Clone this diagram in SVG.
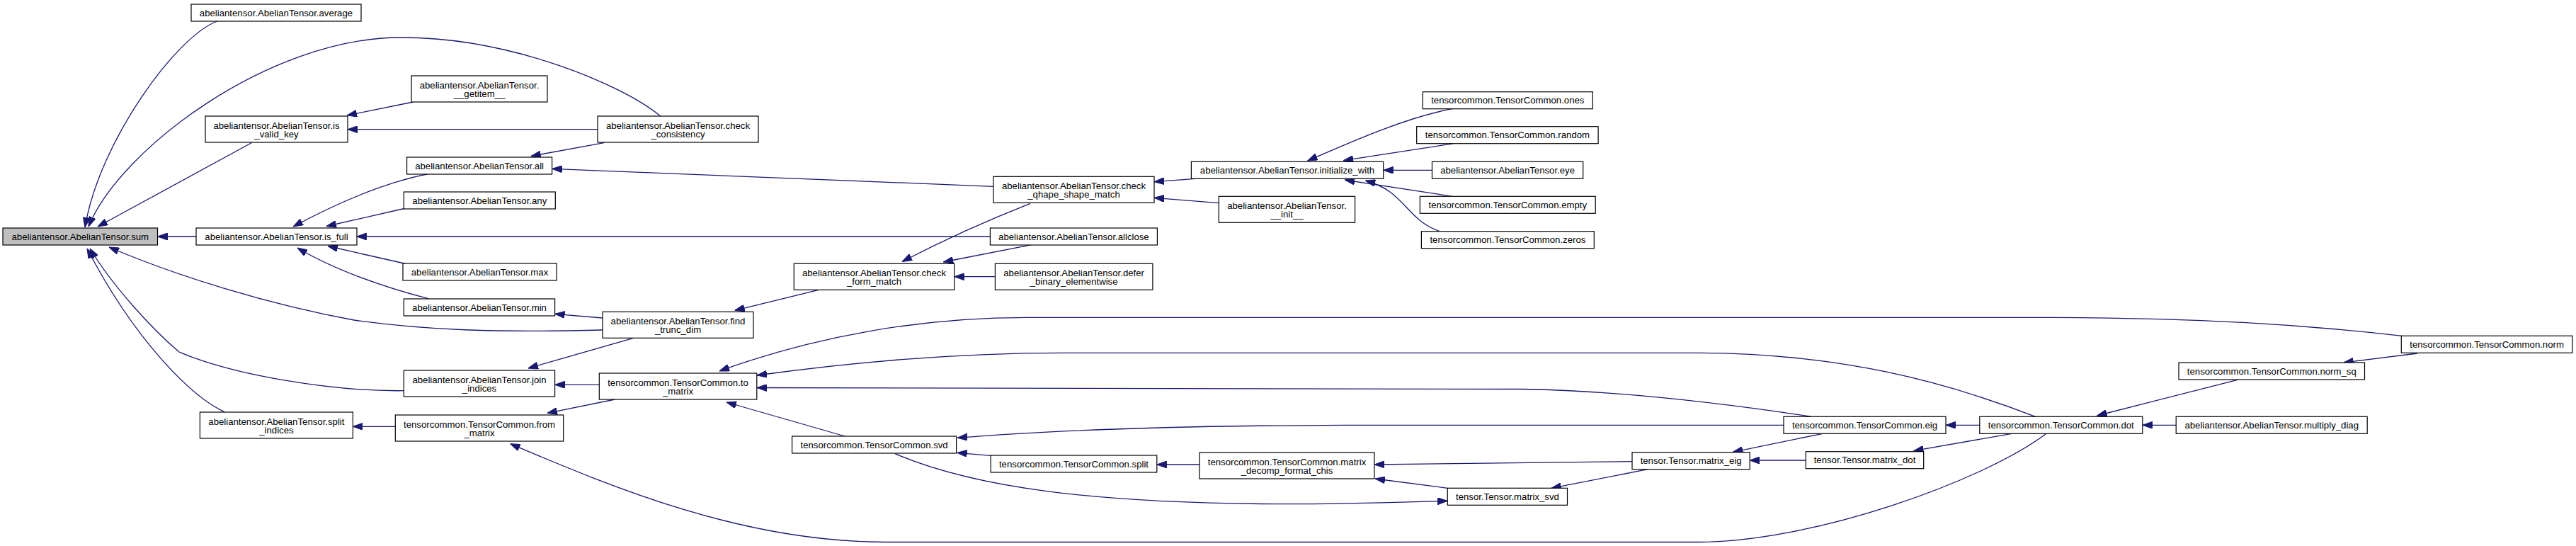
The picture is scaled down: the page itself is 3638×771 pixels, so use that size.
<svg xmlns="http://www.w3.org/2000/svg" width="3638" height="771" viewBox="0 0 3638 771">
<style>
.n rect{fill:#fff;stroke:#000;stroke-width:1.2}
.n.root rect{fill:#bfbfbf}
text{font-family:"Liberation Sans",Arial,Helvetica,sans-serif;font-size:13.2px;fill:#000;text-anchor:middle}
.e path{fill:none;stroke:#191970;stroke-width:1.3;marker-end:url(#ah)}
</style>
<defs>
<marker id="ah" markerUnits="userSpaceOnUse" markerWidth="14" markerHeight="10" refX="14" refY="5" orient="auto">
<path d="M0,0 L14,5 L0,10 z" fill="#191970" stroke="#191970" stroke-width="1"/>
</marker>
</defs>
<rect width="3638" height="771" fill="#fff"/>
<g id="connectors" class="e">
<path d="M307,30 C250,50 140,200 120,321"/>
<path d="M932.6,164 C880,120 720,52 564,53 C380,54 170,210 125,320"/>
<path d="M356,201.3 L138,320"/>
<path d="M277,334 L222.5,334"/>
<path d="M851,466 C700,470 600,466 500,452 C380,430 250,390 154,349"/>
<path d="M570.3,551.7 C470,553 330,530 253,497 C215,465 160,405 127,351"/>
<path d="M317,581.7 C270,560 190,480 123,351"/>
<path d="M605,245.7 C540,258 470,290 414,320"/>
<path d="M573,294 L461,319.5"/>
<path d="M1398.4,334 L503.8,334"/>
<path d="M573,372.5 L463,347.5"/>
<path d="M605,421.7 C540,405 470,380 420,350"/>
<path d="M583.5,144 L490,163"/>
<path d="M844,182.7 L491,182.7"/>
<path d="M853,201.7 L749.8,220.5"/>
<path d="M1403,263.3 L779.7,238.3"/>
<path d="M851,449 L783.6,443.3"/>
<path d="M893.7,477.7 L745.9,520"/>
<path d="M846.3,543.3 L783.6,543.3"/>
<path d="M558.3,602.3 L498.3,602.3"/>
<path d="M868.4,564 L773,583.3"/>
<path d="M2890,612.3 C2800,680 2560,765 2400,765.5 L1250,765.5 C1050,765 870,690 720.6,626.7"/>
<path d="M1156.3,409.3 L1037.7,438.3"/>
<path d="M1455,287.3 C1410,305 1340,335 1274,369.5"/>
<path d="M1456.8,345.7 L1332.3,370"/>
<path d="M1405.4,390.7 L1347.8,390.7"/>
<path d="M1688,252.3 L1630,256.7"/>
<path d="M1721.3,286.7 L1630,279.3"/>
<path d="M2051,153.7 C1990,165 1920,195 1846.7,227"/>
<path d="M2052.9,202.7 L1897.3,226.7"/>
<path d="M2022.5,240.3 L1953.7,240.3"/>
<path d="M2051,277.3 L1899.2,254"/>
<path d="M2033,326.7 C1985,310 1985,270 1928.4,255"/>
<path d="M3392.4,474.3 C3250,458 3100,449 2900,448.3 L1450,448.3 C1300,448.3 1150,475 1016,524"/>
<path d="M2874.5,588.3 C2750,540 2600,499 2400,498.3 L1500,498.3 C1350,498.3 1200,512 1069,530"/>
<path d="M2558,588.3 C2450,572 2300,552 2150,549.5 L1069,547.5"/>
<path d="M1193.3,616 L1026,568"/>
<path d="M2519,600.3 L1900,600.3 C1700,601 1500,606 1352,618.3"/>
<path d="M1399,643.3 L1351.7,639.3"/>
<path d="M1264,640.7 C1380,690 1550,710 1800,711.7 C1900,712 1980,709 2044.3,707.3"/>
<path d="M1694,656 L1633.8,656"/>
<path d="M2305,651.7 L1941.2,656"/>
<path d="M2044.3,689.3 L1942,676"/>
<path d="M2327,662.7 L2191,689.3"/>
<path d="M2574,612.3 L2447.4,638.3"/>
<path d="M2550.3,650 L2471,650"/>
<path d="M2795.8,600.3 L2748,600.3"/>
<path d="M2841,612.3 L2702.5,636.7"/>
<path d="M3159.9,536.3 L2961.5,587"/>
<path d="M3073.2,600.3 L3025.9,600.3"/>
<path d="M3414,499 L3309.7,512"/>
</g>
<g id="n_sum" class="n root"><rect x="4" y="322" width="218.5" height="24"/><text x="113.3" y="338.5">abeliantensor.AbelianTensor.sum</text></g>
<g id="n_average" class="n"><rect x="270" y="6" width="240" height="24"/><text x="390" y="22.5">abeliantensor.AbelianTensor.average</text></g>
<g id="n_is_valid_key" class="n"><rect x="290" y="164" width="201" height="37"/><text x="390.5" y="181.5">abeliantensor.AbelianTensor.is</text><text x="390.5" y="194">_valid_key</text></g>
<g id="n_is_full" class="n"><rect x="277" y="322" width="227" height="24"/><text x="390.5" y="338.5">abeliantensor.AbelianTensor.is_full</text></g>
<g id="n_split_indices" class="n"><rect x="282.4" y="582" width="216" height="37"/><text x="390.4" y="599.5">abeliantensor.AbelianTensor.split</text><text x="390.4" y="612">_indices</text></g>
<g id="n_getitem" class="n"><rect x="581" y="107" width="192" height="37"/><text x="677" y="124.5">abeliantensor.AbelianTensor.</text><text x="677" y="137">__getitem__</text></g>
<g id="n_all" class="n"><rect x="574.6" y="222" width="205" height="24"/><text x="677.1" y="238.5">abeliantensor.AbelianTensor.all</text></g>
<g id="n_any" class="n"><rect x="570.3" y="271" width="214" height="24"/><text x="677.3" y="287.5">abeliantensor.AbelianTensor.any</text></g>
<g id="n_max" class="n"><rect x="569" y="372" width="217" height="24"/><text x="677.5" y="388.5">abeliantensor.AbelianTensor.max</text></g>
<g id="n_min" class="n"><rect x="570.3" y="422" width="213.3" height="24"/><text x="677" y="438.5">abeliantensor.AbelianTensor.min</text></g>
<g id="n_join_indices" class="n"><rect x="570.3" y="523" width="213.3" height="37"/><text x="677" y="540.5">abeliantensor.AbelianTensor.join</text><text x="677" y="553">_indices</text></g>
<g id="n_from_matrix" class="n"><rect x="558.3" y="586" width="237.4" height="37"/><text x="677" y="603.5">tensorcommon.TensorCommon.from</text><text x="677" y="616">_matrix</text></g>
<g id="n_check_consistency" class="n"><rect x="844" y="164" width="227" height="37"/><text x="957.5" y="181.5">abeliantensor.AbelianTensor.check</text><text x="957.5" y="194">_consistency</text></g>
<g id="n_find_trunc_dim" class="n"><rect x="851" y="440.3" width="213" height="37"/><text x="957.5" y="457.8">abeliantensor.AbelianTensor.find</text><text x="957.5" y="470.3">_trunc_dim</text></g>
<g id="n_to_matrix" class="n"><rect x="846.3" y="527" width="222.5" height="37"/><text x="957.5" y="544.5">tensorcommon.TensorCommon.to</text><text x="957.5" y="557">_matrix</text></g>
<g id="n_check_form_match" class="n"><rect x="1121.3" y="372.3" width="226.5" height="37"/><text x="1234.5" y="389.8">abeliantensor.AbelianTensor.check</text><text x="1234.5" y="402.3">_form_match</text></g>
<g id="n_svd" class="n"><rect x="1118.6" y="616" width="232" height="24"/><text x="1234.6" y="632.5">tensorcommon.TensorCommon.svd</text></g>
<g id="n_check_qhape_shape_match" class="n"><rect x="1403" y="249.3" width="227" height="37"/><text x="1516.5" y="266.8">abeliantensor.AbelianTensor.check</text><text x="1516.5" y="279.3">_qhape_shape_match</text></g>
<g id="n_allclose" class="n"><rect x="1398.4" y="322" width="236" height="24"/><text x="1516.4" y="338.5">abeliantensor.AbelianTensor.allclose</text></g>
<g id="n_defer" class="n"><rect x="1405.4" y="372.3" width="222.5" height="37"/><text x="1516.6" y="389.8">abeliantensor.AbelianTensor.defer</text><text x="1516.6" y="402.3">_binary_elementwise</text></g>
<g id="n_split" class="n"><rect x="1399.2" y="643" width="234.6" height="24"/><text x="1516.5" y="659.5">tensorcommon.TensorCommon.split</text></g>
<g id="n_initialize_with" class="n"><rect x="1682.4" y="228.3" width="271.3" height="24"/><text x="1818" y="244.8">abeliantensor.AbelianTensor.initialize_with</text></g>
<g id="n_init" class="n"><rect x="1721.3" y="277.3" width="192.3" height="37"/><text x="1817.5" y="294.8">abeliantensor.AbelianTensor.</text><text x="1817.5" y="307.3">__init__</text></g>
<g id="n_matrix_decomp" class="n"><rect x="1694" y="639" width="247" height="37"/><text x="1817.5" y="656.5">tensorcommon.TensorCommon.matrix</text><text x="1817.5" y="669">_decomp_format_chis</text></g>
<g id="n_ones" class="n"><rect x="2009.3" y="129.7" width="240" height="24"/><text x="2129.3" y="146.2">tensorcommon.TensorCommon.ones</text></g>
<g id="n_random" class="n"><rect x="2000.7" y="178.7" width="256.4" height="24"/><text x="2128.9" y="195.2">tensorcommon.TensorCommon.random</text></g>
<g id="n_eye" class="n"><rect x="2022.5" y="228.3" width="213.2" height="24"/><text x="2129.1" y="244.8">abeliantensor.AbelianTensor.eye</text></g>
<g id="n_empty" class="n"><rect x="2005.4" y="277.3" width="247.8" height="24"/><text x="2129.3" y="293.8">tensorcommon.TensorCommon.empty</text></g>
<g id="n_zeros" class="n"><rect x="2007.4" y="326.7" width="243.9" height="24"/><text x="2129.4" y="343.2">tensorcommon.TensorCommon.zeros</text></g>
<g id="n_matrix_svd" class="n"><rect x="2044.3" y="689.3" width="169.2" height="24"/><text x="2128.9" y="705.8">tensor.Tensor.matrix_svd</text></g>
<g id="n_matrix_eig" class="n"><rect x="2305" y="638.7" width="166.2" height="24"/><text x="2388.1" y="655.2">tensor.Tensor.matrix_eig</text></g>
<g id="n_eig" class="n"><rect x="2519" y="588.3" width="229" height="24"/><text x="2633.5" y="604.8">tensorcommon.TensorCommon.eig</text></g>
<g id="n_matrix_dot" class="n"><rect x="2550.3" y="637.7" width="166.4" height="24"/><text x="2633.5" y="654.2">tensor.Tensor.matrix_dot</text></g>
<g id="n_dot" class="n"><rect x="2795.8" y="588.3" width="230" height="24"/><text x="2910.8" y="604.8">tensorcommon.TensorCommon.dot</text></g>
<g id="n_norm_sq" class="n"><rect x="3077" y="512" width="262.5" height="24"/><text x="3208.3" y="528.5">tensorcommon.TensorCommon.norm_sq</text></g>
<g id="n_multiply_diag" class="n"><rect x="3073.2" y="588.3" width="270" height="24"/><text x="3208.2" y="604.8">abeliantensor.AbelianTensor.multiply_diag</text></g>
<g id="n_norm" class="n"><rect x="3391.3" y="474.3" width="241.6" height="24"/><text x="3512.1" y="490.8">tensorcommon.TensorCommon.norm</text></g>
</svg>
